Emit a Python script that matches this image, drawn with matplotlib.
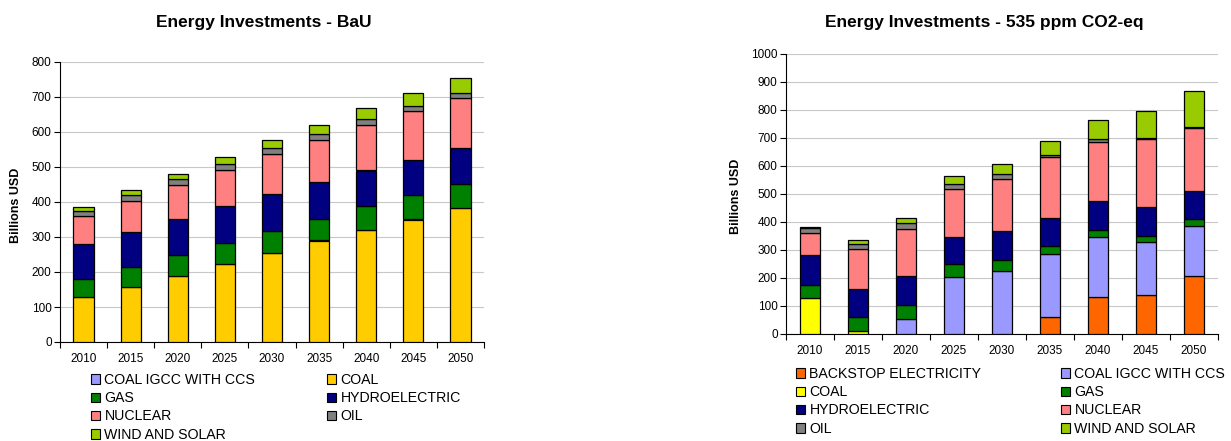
import matplotlib
matplotlib.use('Agg')
import matplotlib.pyplot as plt
from matplotlib.patches import Patch
import numpy as np

plt.rcParams['font.family'] = ['Liberation Sans', 'DejaVu Sans']

years = ['2010', '2015', '2020', '2025', '2030', '2035', '2040', '2045', '2050']

# BaU scenario (billions USD)
bau_coal = [128, 157, 189, 223, 255, 290, 321, 350, 382]
bau_gas = [51, 56, 60, 61, 63, 62, 67, 69, 69]
bau_hydro = [102, 101, 101, 105, 105, 106, 102, 102, 102]
bau_nuclear = [78, 88, 99, 102, 113, 120, 129, 139, 145]
bau_oil = [15, 18, 16, 18, 17, 16, 17, 14, 14]
bau_wind = [12, 13, 15, 20, 23, 26, 32, 37, 43]

# 535 ppm CO2-eq scenario (billions USD)
st_backstop = [0, 0, 0, 0, 0, 60, 131, 138, 206]
st_igcc = [0, 0, 55, 205, 226, 227, 217, 191, 181]
st_coal = [130, 12, 0, 0, 0, 0, 0, 0, 0]
st_gas = [46, 49, 50, 44, 39, 29, 23, 20, 25]
st_hydro = [105, 101, 101, 99, 103, 100, 103, 104, 99]
st_nuclear = [78, 143, 169, 170, 187, 215, 211, 243, 223]
st_oil = [18, 18, 20, 17, 15, 8, 10, 4, 5]
st_wind = [6, 14, 21, 29, 37, 51, 69, 96, 129]

C_BACKSTOP = '#FF6600'
C_IGCC = '#9999FF'
C_COAL = '#FFCC00'
C_COAL2 = '#FFFF00'
C_GAS = '#008000'
C_HYDRO = '#000080'
C_NUCLEAR = '#FF8080'
C_OIL = '#808080'
C_WIND = '#99CC00'

fig = plt.figure(figsize=(12.31, 4.41), dpi=100)


def draw_stack(ax, series, width, ymax, step):
    x = np.arange(len(years))
    bottom = np.zeros(len(years))
    for vals, col in series:
        vals = np.array(vals, dtype=float)
        mask = vals > 0
        ax.bar(x[mask], vals[mask], width, bottom=bottom[mask], color=col,
               edgecolor='black', linewidth=0.9, zorder=3)
        bottom += vals
    ax.set_xlim(-0.5, len(years) - 0.5)
    ax.set_ylim(0, ymax)
    ax.set_yticks(np.arange(0, ymax + 1, step))
    ax.set_xticks(np.arange(-0.5, len(years), 1.0))
    ax.set_xticklabels([])
    ax.set_xticks(x, minor=True)
    ax.set_xticklabels(years, minor=True)
    ax.tick_params(axis='x', which='major', length=4, width=0.8, direction='out')
    ax.tick_params(axis='x', which='minor', length=0, pad=8, labelsize=8.5)
    ax.tick_params(axis='y', length=4, width=0.8, direction='out', labelsize=8.5, pad=2)
    ax.yaxis.grid(True, color='#C8C8C8', linewidth=0.8, zorder=0)
    ax.set_axisbelow(True)
    for s in ['top', 'right']:
        ax.spines[s].set_visible(False)
    for s in ['left', 'bottom']:
        ax.spines[s].set_color('black')
        ax.spines[s].set_linewidth(0.8)


def add_legend(handles_labels, x_px, y_px):
    handles = [Patch(facecolor=c, edgecolor='black', linewidth=0.8) for _, c in handles_labels]
    labels = [l for l, _ in handles_labels]
    leg = fig.legend(handles, labels, loc='upper left',
                     bbox_to_anchor=(x_px / 1231, 1 - y_px / 441),
                     frameon=False, fontsize=10.2, handlelength=0.65, handleheight=0.65,
                     handletextpad=0.3, labelspacing=0.3, borderpad=0, borderaxespad=0)
    return leg


# left chart
ax1 = fig.add_axes([60 / 1231, 1 - 342 / 441, 424 / 1231, 280 / 441])
draw_stack(ax1, [(bau_coal, C_COAL), (bau_gas, C_GAS), (bau_hydro, C_HYDRO),
                 (bau_nuclear, C_NUCLEAR), (bau_oil, C_OIL), (bau_wind, C_WIND)],
           0.43, 800, 100)
fig.text(264 / 1231, 1 - 22 / 441, 'Energy Investments - BaU', ha='center', va='center',
         fontsize=12.5, fontweight='bold')
fig.text(16 / 1231, 1 - 205 / 441, 'Billions USD', ha='center', va='center', rotation=90,
         fontsize=9, fontweight='bold')

# right chart
ax2 = fig.add_axes([786 / 1231, 1 - 334 / 441, 432 / 1231, 280 / 441])
draw_stack(ax2, [(st_backstop, C_BACKSTOP), (st_igcc, C_IGCC), (st_coal, C_COAL2),
                 (st_gas, C_GAS), (st_hydro, C_HYDRO), (st_nuclear, C_NUCLEAR),
                 (st_oil, C_OIL), (st_wind, C_WIND)],
           0.4, 1000, 100)
fig.text(984 / 1231, 1 - 22 / 441, 'Energy Investments - 535 ppm CO2-eq', ha='center',
         va='center', fontsize=12.5, fontweight='bold')
fig.text(736 / 1231, 1 - 196 / 441, 'Billions USD', ha='center', va='center', rotation=90,
         fontsize=9, fontweight='bold')

# legends (row-wise layout like the original)
add_legend([('COAL IGCC WITH CCS', C_IGCC), ('GAS', C_GAS), ('NUCLEAR', C_NUCLEAR),
            ('WIND AND SOLAR', C_WIND)], 91, 373)
add_legend([('COAL', C_COAL), ('HYDROELECTRIC', C_HYDRO), ('OIL', C_OIL)], 327, 373)
add_legend([('BACKSTOP ELECTRICITY', C_BACKSTOP), ('COAL', C_COAL2),
            ('HYDROELECTRIC', C_HYDRO), ('OIL', C_OIL)], 796, 367)
add_legend([('COAL IGCC WITH CCS', C_IGCC), ('GAS', C_GAS), ('NUCLEAR', C_NUCLEAR),
            ('WIND AND SOLAR', C_WIND)], 1061, 367)

fig.savefig('out.png', dpi=100)
